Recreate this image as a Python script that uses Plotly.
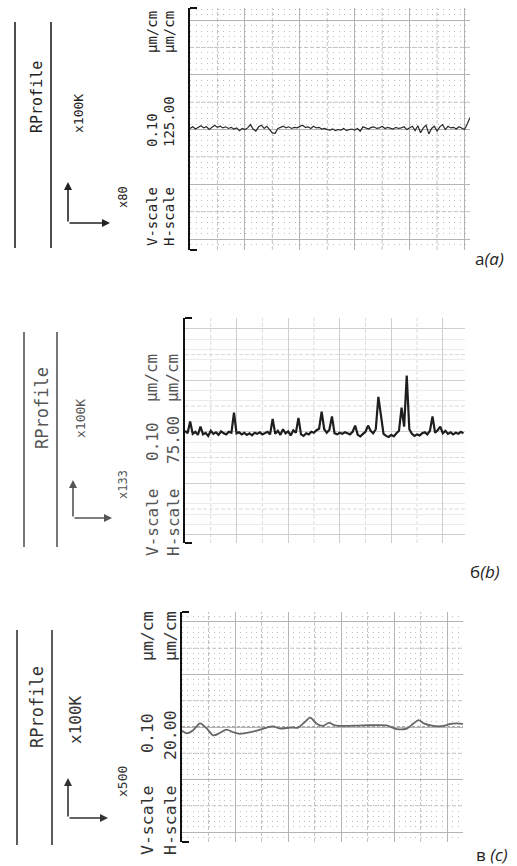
import plotly.graph_objects as go

W, H = 517, 866

# ---------------- data (profile deviation, in chart divisions) ----------------
# panel a: evenly sampled profile, step 0.05 division
step_a = 0.05
y_a = [0.02, 0.05, 0.01, 0.04, 0.07, 0.03, 0.05, 0.00, 0.04, 0.08, 0.04,
       0.06, 0.03, 0.05, 0.02, 0.04, 0.01, 0.03, -0.02, 0.02, 0.00,
       0.03, 0.09, 0.01, -0.03, 0.05, 0.08, 0.02, 0.06, -0.01, -0.06,
       -0.07, 0.02, 0.04, 0.06, 0.03, 0.05, 0.02, 0.04, 0.03, 0.06,
       0.08, 0.04, 0.05, 0.02, 0.06, 0.03, 0.04, 0.01, 0.02, 0.00,
       -0.01, 0.01, -0.02, 0.00, -0.01, 0.02, -0.02, 0.00, 0.01, -0.01,
       0.02, -0.03, 0.05, 0.03, 0.01, 0.04, 0.05, 0.02, 0.03, 0.06,
       0.02, 0.04, 0.03, 0.01, 0.04, 0.02, 0.03, 0.05, 0.00, 0.03,
       0.06, -0.02, 0.07, -0.06, 0.03, 0.08, -0.08, 0.02, 0.06, -0.03,
       0.05, 0.09, 0.00, 0.06, 0.03, 0.04, 0.01, 0.05, 0.02, 0.00, 0.10, 0.22]

# panel b: evenly sampled profile, step 0.05 division
step_b = 0.05
y_b = [0.02, -0.03, 0.20, -0.04, 0.00, -0.06, 0.10, -0.05, -0.02, -0.08,
       0.02, -0.04, -0.01, -0.06, 0.01, -0.03, -0.05, 0.00, -0.02, 0.37,
       -0.03, -0.01, -0.05, -0.02, -0.06, -0.03, -0.07, -0.02, -0.04, -0.01,
       -0.05, -0.02, 0.00, -0.05, 0.25, -0.04, 0.02, -0.06, 0.05, -0.03,
       0.01, -0.07, 0.03, -0.02, 0.27, -0.05, -0.08, -0.03, -0.05, 0.00,
       -0.02, 0.03, 0.06, 0.39, 0.05, -0.02, 0.04, 0.30, -0.03, -0.05,
       -0.02, -0.04, -0.01, -0.03, -0.05, 0.00, 0.12, -0.06, -0.09, -0.04,
       0.00, 0.12, 0.02, -0.03, 0.05, 0.68, 0.35, -0.04, -0.08, -0.10,
       -0.06, -0.09, -0.03, 0.02, 0.47, 0.10, 1.09, 0.05, -0.04, -0.08,
       -0.05, -0.07, -0.03, -0.01, -0.05, 0.02, 0.30, -0.02, 0.03, 0.10,
       -0.03, 0.02, -0.04, -0.01, -0.05, -0.02, -0.04, 0.00, -0.03]

# panel c: smooth profile, read point by point
x_c = [0.00, 0.09, 0.21, 0.34, 0.47, 0.59, 0.72, 0.84, 0.97, 1.09, 1.22, 1.41,
       1.60, 1.72, 1.85, 2.04, 2.19, 2.32, 2.42, 2.54, 2.66, 2.77, 2.89, 3.04,
       3.42, 3.86, 4.05, 4.24, 4.36, 4.46, 4.56, 4.74, 4.93, 5.06, 5.18, 5.30]
y_c = [-0.07, -0.12, -0.06, 0.07, -0.03, -0.16, -0.11, -0.05, -0.10, -0.13, -0.11, -0.07,
       -0.01, 0.01, -0.03, -0.01, -0.01, 0.10, 0.18, 0.06, 0.02, 0.08, 0.03, 0.02,
       0.03, 0.03, -0.04, -0.03, 0.06, 0.13, 0.07, 0.02, 0.02, 0.06, 0.07, 0.06]

panel_letters = ["а<i>(a)</i>", "б<i>(b)</i>", "в <i>(c)</i>"]
mag_labels = ["x80", "x133", "x500"]
vscale_vals = ["0.10", "0.10", "0.10"]
hscale_vals = ["125.00", "75.00", "20.00"]
title_text = "RProfile"
k_text = "x100K"
unit_text = "µm/cm"

x_a = [round(i * step_a, 3) for i in range(len(y_a))]
x_b = [round(i * step_b, 3) for i in range(len(y_b))]


def px(x):
    return x / W


def py(y):
    return 1 - y / H


# ---------------- layout geometry (pixels) ----------------
panels = [
    dict(xd=(190, 470), yd=(8, 250), xr=(0, 5.1), yr=(-2.2, 2.22),
         grid="#b4b4b4", half="#c4c4c4", minor="#bdbdbd", minor_dash="1px,4.5px",
         minor_dtick=0.1, color="#2a2a2a", lw=1.2, shape="linear", tcol="#222",
         lines_x=(15, 51), lines_y=(22, 248), title=(37, 97, 15), k=(78, 114, 13),
         arrow=(68, 223, 182, 110), mag=(123, 197, 12),
         vs=(152, 217, 130, 32), hs=(169, 217, 122, 32), ssize=14, letter=(490, 258)),
    dict(xd=(185, 465), yd=(318, 543), xr=(0, 5.43), yr=(-2.16, 2.21),
         grid="#cfcfcf", half="#dadada", minor="#ebebeb", minor_dash="solid",
         minor_dtick=0.2, color="#1e1e1e", lw=2.2, shape="linear", tcol="#555",
         lines_x=(24, 57), lines_y=(332, 547), title=(42, 408, 17), k=(80, 419, 13),
         arrow=(73, 518, 480, 112), mag=(123, 485, 12),
         vs=(152, 523, 442, 378), hs=(173, 523, 440, 378), ssize=16, letter=(485, 571)),
    dict(xd=(182, 463), yd=(612, 842), xr=(0, 5.3), yr=(-2.19, 2.19),
         grid="#b4b4b4", half="#c4c4c4", minor="#bdbdbd", minor_dash="1px,4.3px",
         minor_dtick=0.1, color="#666", lw=1.8, shape="spline", tcol="#333",
         lines_x=(17, 52), lines_y=(630, 845), title=(37, 707, 17), k=(75, 720, 16),
         arrow=(68, 818, 778, 108), mag=(122, 782, 13),
         vs=(147, 820, 733, 636), hs=(170, 820, 735, 636), ssize=16.5, letter=(492, 854)),
]

series = [(x_a, y_a), (x_b, y_b), (x_c, y_c)]

fig = go.Figure()
shapes = []
annotations = []
mono = "DejaVu Sans Mono"

for i, p in enumerate(panels):
    n = "" if i == 0 else str(i + 1)
    xs, ys = series[i]
    fig.add_trace(go.Scatter(x=xs, y=ys, mode="lines", xaxis="x" + n, yaxis="y" + n,
                             line=dict(color=p["color"], width=p["lw"], shape=p["shape"],
                                       smoothing=0.8),
                             showlegend=False, hoverinfo="skip"))
    fig.update_layout(**{
        "xaxis" + n: dict(domain=[px(p["xd"][0]), px(p["xd"][1])], range=list(p["xr"]),
                          anchor="y" + n, dtick=1, tick0=0, showgrid=True,
                          gridcolor=p["grid"], gridwidth=1, zeroline=False,
                          showticklabels=False, ticks="", showline=False, fixedrange=True),
        "yaxis" + n: dict(domain=[py(p["yd"][1]), py(p["yd"][0])], range=list(p["yr"]),
                          anchor="x" + n, dtick=1, tick0=0, showgrid=True,
                          gridcolor=p["grid"], gridwidth=1, zeroline=False,
                          showticklabels=False, ticks="", showline=True,
                          linecolor="#111", linewidth=2,
                          minor=dict(dtick=p["minor_dtick"], tick0=0, showgrid=True,
                                     gridcolor=p["minor"], griddash=p["minor_dash"],
                                     gridwidth=1),
                          fixedrange=True),
    })
    xref, yref = "x" + n, "y" + n
    # half-division dashed lines
    v = 0.5
    while v < p["xr"][1]:
        shapes.append(dict(type="line", xref=xref, yref=yref + " domain", x0=v, x1=v, y0=0, y1=1,
                           line=dict(color=p["half"], width=1, dash="4px,2px"), layer="below"))
        v += 1
    for hv in (-1.5, -0.5, 0.5, 1.5):
        shapes.append(dict(type="line", xref=xref + " domain", yref=yref, x0=0, x1=1, y0=hv, y1=hv,
                           line=dict(color=p["half"], width=1, dash="4px,2px"), layer="below"))
    if i == 2:
        shapes.append(dict(type="line", xref=xref + " domain", yref=yref, x0=0, x1=1, y0=0, y1=0,
                           line=dict(color="#555", width=1, dash="3px,2px"), layer="below"))
    # bracket ends
    for yy in (0, 1):
        shapes.append(dict(type="line", xref=xref + " domain", yref=yref + " domain",
                           x0=0, x1=0.025, y0=yy, y1=yy, line=dict(color="#111", width=2)))
    # left text block: two rules
    for lx in p["lines_x"]:
        shapes.append(dict(type="line", xref="paper", yref="paper", x0=px(lx), x1=px(lx),
                           y0=py(p["lines_y"][0]), y1=py(p["lines_y"][1]),
                           line=dict(color=p["tcol"], width=1.6)))

    def txt(t, x, y, size, color=p["tcol"], angle=-90, family=mono):
        annotations.append(dict(text=t, x=px(x), y=py(y), xref="paper", yref="paper",
                                showarrow=False, textangle=angle, xanchor="center",
                                yanchor="middle", font=dict(family=family, size=size, color=color)))

    txt(title_text, p["title"][0], p["title"][1], p["title"][2])
    txt(k_text, p["k"][0], p["k"][1], p["k"][2])
    txt(mag_labels[i], p["mag"][0], p["mag"][1], p["mag"][2])
    s = p["ssize"]
    txt("V-scale", p["vs"][0], p["vs"][1], s)
    txt(vscale_vals[i], p["vs"][0], p["vs"][2], s)
    txt(unit_text, p["vs"][0], p["vs"][3], s)
    txt("H-scale", p["hs"][0], p["hs"][1], s)
    txt(hscale_vals[i], p["hs"][0], p["hs"][2], s)
    txt(unit_text, p["hs"][0], p["hs"][3], s)
    txt(panel_letters[i], p["letter"][0], p["letter"][1], 17, color="#222", angle=0,
        family="Open Sans")

    # L-shaped arrows
    cx, cy, uy, rx = p["arrow"]
    annotations.append(dict(text="", x=px(cx), y=py(uy), xref="paper", yref="paper",
                            ax=0, ay=cy - uy, showarrow=True, arrowhead=2, arrowsize=1,
                            arrowwidth=1.6, arrowcolor=p["tcol"]))
    annotations.append(dict(text="", x=px(rx), y=py(cy), xref="paper", yref="paper",
                            ax=-(rx - cx), ay=0, showarrow=True, arrowhead=2, arrowsize=1,
                            arrowwidth=1.6, arrowcolor=p["tcol"]))

fig.update_layout(width=W, height=H, margin=dict(l=0, r=0, t=0, b=0),
                  paper_bgcolor="white", plot_bgcolor="white",
                  shapes=shapes, annotations=annotations, showlegend=False)

fig.write_html("out.html", config={"displayModeBar": False},
               post_script="document.body.style.margin='0';document.body.style.padding='0';")
